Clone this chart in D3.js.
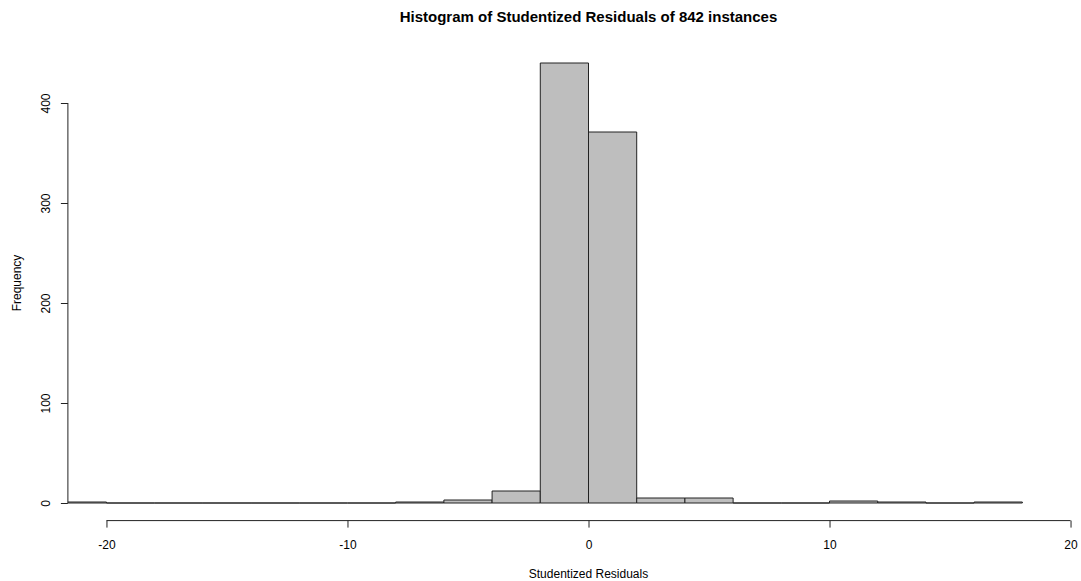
<!DOCTYPE html>
<html>
<head>
<meta charset="utf-8">
<script src="https://cdn.jsdelivr.net/npm/d3@7"></script>
<style>
	body { margin: 0; background: #fff; }
	text { font-family: 'Liberation Sans', Arial, sans-serif; }
</style>
</head>
<body>
<div id="chart"></div>
<script>
// histogram bins (width 2) and counts
const binStarts = [-22, -20, -18, -16, -14, -12, -10, -8, -6, -4, -2, 0, 2, 4, 6, 8, 10, 12, 14, 16];
const counts = [1, 0, 0, 0, 0, 0, 0, 1, 3, 12, 440, 371, 5, 5, 0, 0, 2, 1, 0, 1];
const binWidth = 2;
const xTicks = [-20, -10, 0, 10, 20];
const yTicks = [0, 100, 200, 300, 400];

const width = 1081, height = 581;

const svg = d3
	.select('#chart')
	.append('svg')
	.attr('width', width)
	.attr('height', height);

// R style plot region: xlim c(-20,20), ylim c(0,440) with 4% extension
const x = d3.scaleLinear().domain([-21.6, 21.6]).range([67.9, 1109.1]);
const y = d3.scaleLinear().domain([-17.6, 457.6]).range([520.6, 45.4]);

svg.append('clipPath')
	.attr('id', 'plotclip')
	.append('rect')
	.attr('x', x.range()[0])
	.attr('y', y.range()[1])
	.attr('width', x.range()[1] - x.range()[0])
	.attr('height', y.range()[0] - y.range()[1]);

const bins = binStarts.map((s, i) => ({ x0: s, x1: s + binWidth, n: counts[i] }));

// bars as closed paths so empty bins still show as a line on the baseline
svg.append('g')
	.attr('clip-path', 'url(#plotclip)')
	.selectAll('path')
	.data(bins)
	.enter()
	.append('path')
	.attr('d', (d) => `M${x(d.x0)},${y(0)}V${y(d.n)}H${x(d.x1)}V${y(0)}Z`)
	.attr('fill', '#bebebe')
	.attr('stroke', '#222')
	.attr('stroke-width', 1);

// X axis
const xAxis = svg.append('g')
	.attr('transform', `translate(0, ${y(-17.6)})`)
	.call(d3.axisBottom(x).tickValues(xTicks).tickFormat((d) => String(d)).tickSize(7).tickSizeOuter(0).tickPadding(13));
xAxis.select('.domain').remove();
xAxis.append('line')
	.attr('x1', x(-20)).attr('x2', x(20))
	.attr('stroke', '#222');
xAxis.selectAll('text').attr('font-size', 12).attr('fill', '#000');
xAxis.selectAll('.tick line').attr('stroke', '#222');

// Y axis
const yAxis = svg.append('g')
	.attr('transform', `translate(${x(-21.6)}, 0)`)
	.call(d3.axisLeft(y).tickValues(yTicks).tickFormat((d) => String(d)).tickSize(7).tickSizeOuter(0));
yAxis.select('.domain').remove();
yAxis.append('line')
	.attr('y1', y(0)).attr('y2', y(400))
	.attr('stroke', '#222');
yAxis.selectAll('.tick line').attr('stroke', '#222');
yAxis.selectAll('text')
	.attr('font-size', 12)
	.attr('fill', '#000')
	.attr('x', 0)
	.attr('dy', 0)
	.attr('text-anchor', 'middle')
	.attr('transform', 'translate(-18, 0) rotate(-90)');

// titles
svg.append('text')
	.attr('x', (x.range()[0] + x.range()[1]) / 2)
	.attr('y', 22)
	.attr('text-anchor', 'middle')
	.attr('font-size', 15)
	.attr('font-weight', 'bold')
	.text('Histogram of Studentized Residuals of 842 instances');

svg.append('text')
	.attr('x', (x.range()[0] + x.range()[1]) / 2)
	.attr('y', 578)
	.attr('text-anchor', 'middle')
	.attr('font-size', 12)
	.text('Studentized Residuals');

svg.append('text')
	.attr('transform', `translate(21, ${(y.range()[0] + y.range()[1]) / 2}) rotate(-90)`)
	.attr('text-anchor', 'middle')
	.attr('font-size', 12)
	.text('Frequency');
</script>
</body>
</html>
